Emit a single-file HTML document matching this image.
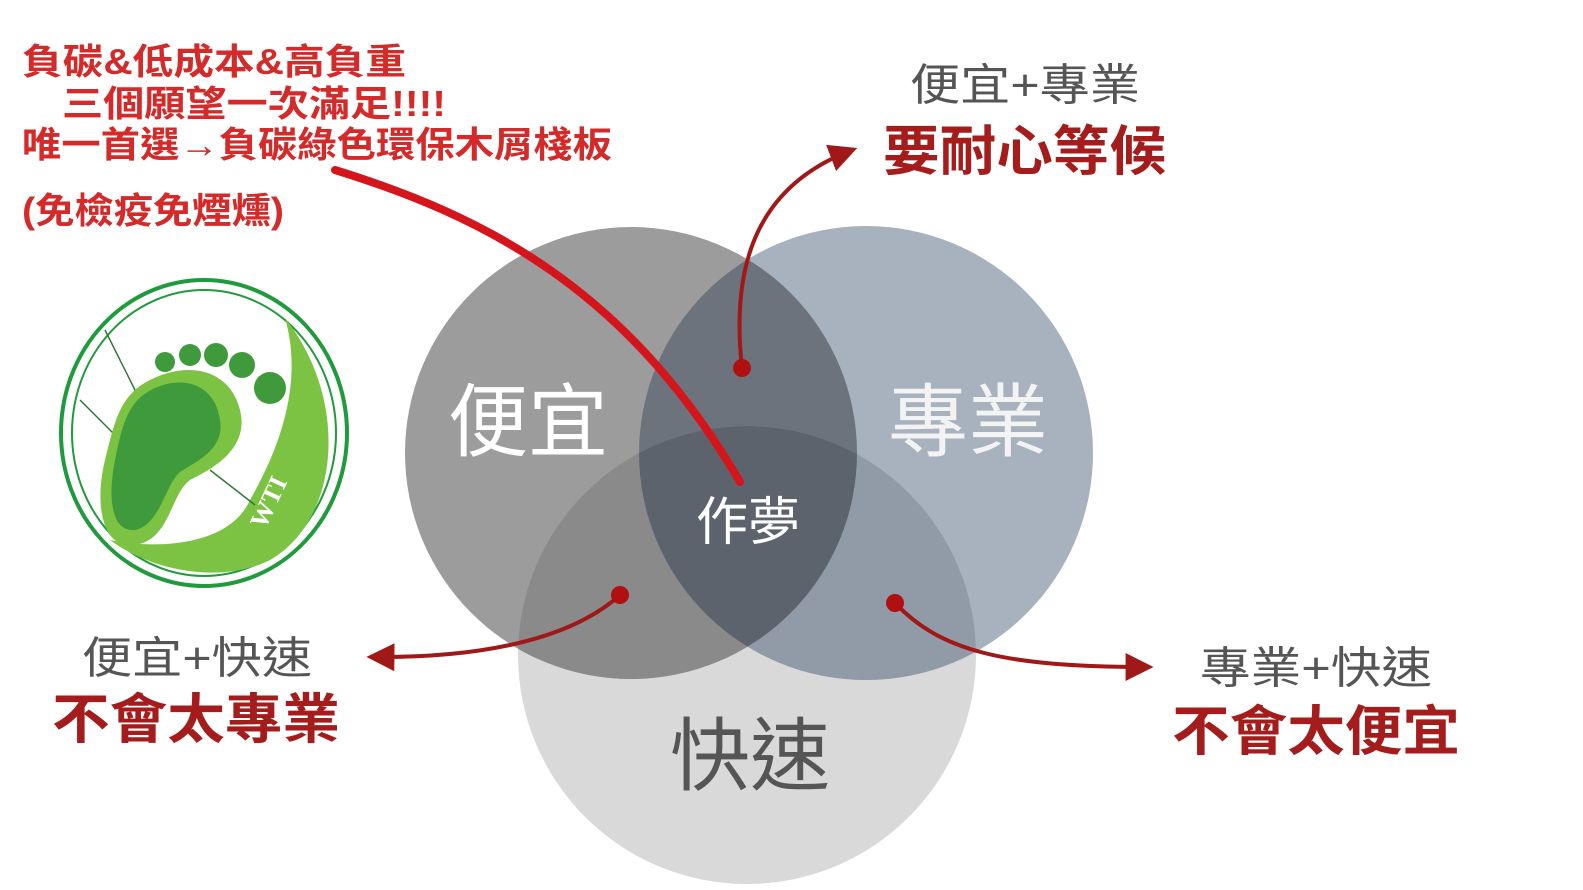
<!DOCTYPE html>
<html><head><meta charset="utf-8"><style>
html,body{margin:0;padding:0;background:#fff;}
svg{display:block;}
</style></head><body>
<svg width="1583" height="890" viewBox="0 0 1583 890" xmlns="http://www.w3.org/2000/svg" font-family="'Liberation Sans','Noto Sans CJK TC',sans-serif">
<defs>
<clipPath id="cL"><circle cx="631" cy="453" r="226"/></clipPath>
<clipPath id="cR"><circle cx="866" cy="453" r="227"/></clipPath>
<clipPath id="cB"><circle cx="747" cy="655" r="229"/></clipPath>
<marker id="ah" viewBox="0 0 10 10" refX="8" refY="5" markerWidth="7" markerHeight="7" orient="auto"><path d="M0,0 L10,5 L0,10 z" fill="#a01818"/></marker>
</defs>
<circle cx="747" cy="655" r="229" fill="#d9d9d9"/>
<circle cx="631" cy="453" r="226" fill="#9c9c9c"/>
<circle cx="866" cy="453" r="227" fill="#a8b2be"/>
<g clip-path="url(#cL)"><circle cx="866" cy="453" r="227" fill="#6c737c"/><circle cx="747" cy="655" r="229" fill="#8a8a8a"/></g>
<g clip-path="url(#cR)"><circle cx="747" cy="655" r="229" fill="#919ba7"/></g>
<g clip-path="url(#cL)"><g clip-path="url(#cR)"><circle cx="747" cy="655" r="229" fill="#5c636d"/></g></g>

<text x="528" y="450" font-size="80" fill="#fff" text-anchor="middle">便宜</text>
<text x="968" y="450" font-size="80" fill="#f3f3f3" text-anchor="middle">專業</text>
<text x="750" y="784" font-size="80" fill="#555" text-anchor="middle">快速</text>
<text x="748" y="540" font-size="52" fill="#fff" text-anchor="middle">作夢</text>

<g fill="none" stroke="#a01818" stroke-width="4">
<path d="M742,368 C730,260 760,185 852,150" marker-end="url(#ah)"/>
<path d="M620,595 C570,640 480,658 372,657" marker-end="url(#ah)"/>
<path d="M895,603 C940,650 1000,667 1148,667" marker-end="url(#ah)"/>
</g>
<circle cx="742" cy="368" r="9" fill="#b01010"/>
<circle cx="620" cy="595" r="9" fill="#b01010"/>
<circle cx="895" cy="603" r="9" fill="#b01010"/>

<path d="M335,170 C480,215 625,285 740,482" fill="none" stroke="#d4161c" stroke-width="8" stroke-linecap="round"/>

<text x="910" y="100" font-size="44" fill="#555" textLength="230" lengthAdjust="spacingAndGlyphs">便宜+專業</text>
<text x="883" y="170" font-size="54" font-weight="bold" fill="#a51c1c" textLength="283" lengthAdjust="spacingAndGlyphs">要耐心等候</text>
<text x="82" y="673" font-size="44" fill="#555" textLength="230" lengthAdjust="spacingAndGlyphs">便宜+快速</text>
<text x="52" y="738" font-size="54" font-weight="bold" fill="#a51c1c" textLength="288" lengthAdjust="spacingAndGlyphs">不會太專業</text>
<text x="1200" y="683" font-size="44" fill="#555" textLength="232" lengthAdjust="spacingAndGlyphs">專業+快速</text>
<text x="1172" y="750" font-size="54" font-weight="bold" fill="#a51c1c" textLength="288" lengthAdjust="spacingAndGlyphs">不會太便宜</text>

<g font-size="36" font-weight="bold" fill="#d42a2a">
<text x="22" y="74" textLength="384" lengthAdjust="spacingAndGlyphs">負碳&amp;低成本&amp;高負重</text>
<text x="62" y="116" textLength="384" lengthAdjust="spacingAndGlyphs">三個願望一次滿足!!!!</text>
<text x="22" y="157" textLength="590" lengthAdjust="spacingAndGlyphs">唯一首選→負碳綠色環保木屑棧板</text>
<text x="22" y="223" textLength="262" lengthAdjust="spacingAndGlyphs">(免檢疫免煙燻)</text>
</g>

<g>
<ellipse cx="204" cy="433" rx="143" ry="153" fill="#fff" stroke="#1f9a3c" stroke-width="4"/>
<ellipse cx="204" cy="433" rx="132" ry="143" fill="none" stroke="#1f9a3c" stroke-width="2"/>
<path d="M285,318 C350,400 340,520 270,560 C220,585 150,570 110,540 C160,550 230,545 250,500 C290,430 300,370 285,318 Z" fill="#7cc243"/>
<path d="M80,400 L150,470 M105,330 L140,400 M210,470 L255,505" stroke="#2f7a3a" stroke-width="1.5"/>
<path d="M150,380 C190,360 230,370 240,410 C250,450 210,470 190,480 C170,495 170,540 135,545 C100,550 95,500 105,460 C115,420 120,395 150,380 Z" fill="#7cc243"/>
<path d="M155,388 C185,375 215,385 220,420 C225,450 195,462 180,472 C165,485 160,525 135,530 C110,532 108,495 115,460 C122,425 128,400 155,388 Z" fill="#3e9a3a"/>
<circle cx="165" cy="362" r="10" fill="#3e9a3a"/>
<circle cx="190" cy="355" r="11" fill="#3e9a3a"/>
<circle cx="216" cy="355" r="12" fill="#3e9a3a"/>
<circle cx="242" cy="365" r="13" fill="#3e9a3a"/>
<circle cx="270" cy="388" r="16" fill="#3e9a3a"/>
<text x="265" y="530" font-size="26" font-family="'Liberation Serif',serif" font-weight="bold" fill="#fff" transform="rotate(-65 265 530)">WTI</text>
</g>
</svg>
</body></html>
